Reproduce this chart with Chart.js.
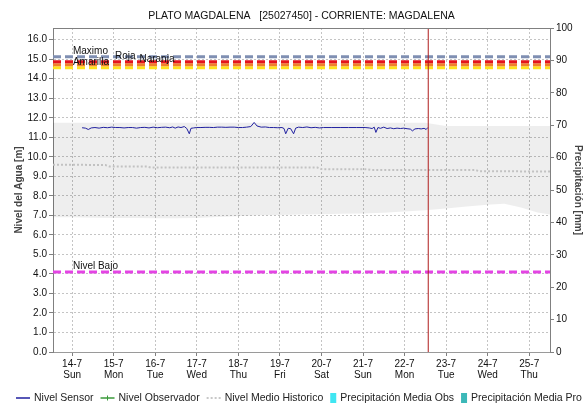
<!DOCTYPE html>
<html>
<head>
<meta charset="utf-8">
<title>Plato Magdalena</title>
<script src="https://cdn.jsdelivr.net/npm/chart.js@4.4.0/dist/chart.umd.min.js"></script>
<style>
  html, body { margin: 0; padding: 0; background: #fff; }
  #caja { width: 584px; height: 404px; }
</style>
</head>
<body>
<div id="caja"><canvas id="grafica" width="584" height="404"></canvas></div>
<script>
// dias del eje x (dia de julio) con su etiqueta de fecha y dia de la semana
var diasEje = [14, 15, 16, 17, 18, 19, 20, 21, 22, 23, 24, 25];
var etiquetasFecha = ['14-7', '15-7', '16-7', '17-7', '18-7', '19-7', '20-7', '21-7', '22-7', '23-7', '24-7', '25-7'];
var etiquetasDia = ['Sun', 'Mon', 'Tue', 'Wed', 'Thu', 'Fri', 'Sat', 'Sun', 'Mon', 'Tue', 'Wed', 'Thu'];

// marcas del eje de nivel (m)
var ticksNivel = [0, 1, 2, 3, 4, 5, 6, 7, 8, 9, 10, 11, 12, 13, 14, 15, 16];

// lecturas del sensor: dia (fraccion) y nivel en metros
var sensorDias = [14.24, 14.32, 14.39, 14.46, 14.55, 14.65, 14.75, 14.85, 14.95, 15.05,
    15.15, 15.25, 15.35, 15.45, 15.55, 15.65, 15.75, 15.85, 15.95, 16.05,
    16.15, 16.25, 16.35, 16.42, 16.48, 16.55, 16.62, 16.70, 16.76, 16.82,
    16.86, 16.92, 17.00, 17.10, 17.20, 17.30, 17.40, 17.50, 17.60, 17.70,
    17.80, 17.90, 18.00, 18.10, 18.20, 18.30, 18.38, 18.45, 18.55, 18.65,
    18.75, 18.85, 18.95, 19.05, 19.10, 19.14, 19.20, 19.26, 19.33, 19.38,
    19.45, 19.55, 19.65, 19.75, 19.85, 19.95, 20.05, 20.25, 20.45, 20.65,
    20.85, 21.05, 21.15, 21.22, 21.27, 21.31, 21.36, 21.42, 21.50, 21.58,
    21.66, 21.74, 21.82, 21.90, 21.98, 22.06, 22.14, 22.19, 22.25, 22.33,
    22.40, 22.47, 22.52, 22.56];
var sensorNivel = [11.49, 11.47, 11.40, 11.48, 11.50, 11.47, 11.51, 11.49, 11.52, 11.50,
    11.50, 11.48, 11.50, 11.50, 11.47, 11.50, 11.51, 11.48, 11.52, 11.49,
    11.51, 11.52, 11.49, 11.53, 11.47, 11.53, 11.50, 11.55, 11.45, 11.18,
    11.46, 11.48, 11.50, 11.50, 11.51, 11.51, 11.50, 11.52, 11.52, 11.51,
    11.52, 11.52, 11.50, 11.50, 11.52, 11.55, 11.76, 11.58, 11.52, 11.53,
    11.50, 11.50, 11.49, 11.50, 11.45, 11.18, 11.46, 11.44, 11.18, 11.47,
    11.52, 11.50, 11.53, 11.49, 11.51, 11.48, 11.50, 11.50, 11.50, 11.50,
    11.50, 11.50, 11.48, 11.45, 11.52, 11.25, 11.50, 11.46, 11.52, 11.45,
    11.48, 11.44, 11.47, 11.45, 11.47, 11.44, 11.42, 11.33, 11.43, 11.45,
    11.43, 11.46, 11.40, 11.50];

// el observador no tiene lecturas en este periodo
var observadorDias = [];
var observadorNivel = [];

// banda historica (maximo y minimo) y nivel medio historico
var histDias = [13.54, 14, 14.5, 15, 15.5, 16, 16.5, 17, 17.5, 18, 18.5, 19, 19.5, 20,
    20.5, 21, 21.5, 22, 22.5, 23, 23.5, 24, 24.4, 24.8, 25.2, 25.5];
var histMaximo = [11.75, 11.75, 11.75, 11.75, 11.75, 11.75, 11.75, 11.75, 11.75, 11.75, 11.75, 11.75, 11.75, 11.75,
    11.75, 11.75, 11.75, 11.75, 11.74, 11.58, 11.58, 11.58, 11.58, 11.58, 11.58, 11.58];
var histMinimo = [6.90, 6.90, 6.88, 6.87, 6.86, 6.85, 6.85, 6.87, 6.92, 6.96, 7.00, 7.02, 7.04, 7.06,
    7.08, 7.10, 7.14, 7.20, 7.26, 7.35, 7.45, 7.55, 7.60, 7.40, 7.15, 7.05];
var medioDias = [13.54, 14.8, 14.9, 15.8, 15.9, 19.9, 20.0, 21.1, 21.2, 23.7, 23.8, 25.5];
var medioNivel = [9.60, 9.58, 9.50, 9.50, 9.45, 9.45, 9.37, 9.36, 9.33, 9.33, 9.26, 9.25];

// umbrales de alerta (m)
var umbralNombres = ['Maximo', 'Roja', 'Naranja', 'Amarilla', 'Nivel Bajo'];
var umbralValores = [15.13, 14.87, 14.72, 14.56, 4.10];

// momento actual (dia fraccion)
var ahora = 22.57;

var leyendaNombres = ['Nivel Sensor', 'Nivel Observador', 'Nivel Medio Historico', 'Precipitación Media Obs', 'Precipitación Media Pro'];

// estilos
var fuente = '"Liberation Sans", Arial, sans-serif';
var coloresUmbral = ['#7f8fb2', '#e4141c', '#f0802c', '#ffe21c', '#e444e4'];
var etiquetaUmbralDia = [14.02, 15.03, 15.62, 14.02, 14.02];
var leyendaTipos = ['linea', 'marca', 'puntos', 'caja', 'caja'];
var leyendaColores = ['#1f1f9f', '#3a9a3a', '#c8c8c8', '#40e6f2', '#3cb8b8'];

function puntos(xs, ys) {
    return xs.map(function (x, i) { return { x: x, y: ys[i] }; });
}

var datasets = [];
// linea roja del momento actual
datasets.push({
    label: 'Ahora', data: [{ x: ahora, y: 0 }, { x: ahora, y: 16.6 }],
    borderColor: '#b01c1c', borderWidth: 1, pointRadius: 0, order: 0
});
datasets.push({
    label: 'Nivel Sensor', data: puntos(sensorDias, sensorNivel),
    borderColor: '#1f1f9f', borderWidth: 1, pointRadius: 0, tension: 0, order: 1
});
datasets.push({
    label: 'Nivel Observador', data: puntos(observadorDias, observadorNivel),
    borderColor: '#3a9a3a', borderWidth: 1, pointRadius: 2, order: 1
});
for (var i = 0; i < umbralNombres.length; i++) {
    datasets.push({
        label: umbralNombres[i],
        data: [{ x: 13.54, y: umbralValores[i] }, { x: 25.5, y: umbralValores[i] }],
        borderColor: coloresUmbral[i], borderWidth: 3, borderDash: [8, 4],
        pointRadius: 0, order: 2
    });
}
datasets.push({
    label: 'Nivel Medio Historico', data: puntos(medioDias, medioNivel),
    borderColor: '#c2c2c2', borderWidth: 2, borderDash: [2, 2], pointRadius: 0, order: 3
});
// banda historica: se rellena del maximo al minimo
datasets.push({
    label: 'Maximo Historico', data: puntos(histDias, histMaximo),
    borderWidth: 0, borderColor: 'rgba(0,0,0,0)', pointRadius: 0,
    backgroundColor: 'rgba(0,0,0,0.065)', fill: '+1', order: 4
});
datasets.push({
    label: 'Minimo Historico', data: puntos(histDias, histMinimo),
    borderWidth: 0, borderColor: 'rgba(0,0,0,0)', pointRadius: 0, fill: false, order: 5
});

// titulo, marco superior, rotulos de umbrales y leyenda
var rotulos = {
    id: 'rotulos',
    afterDatasetsDraw: function (chart) {
        var ctx = chart.ctx;
        var xs = chart.scales.x, ys = chart.scales.y;
        ctx.save();
        ctx.font = '10px ' + fuente;
        ctx.fillStyle = '#111';
        ctx.textBaseline = 'middle';
        ctx.textAlign = 'left';
        for (var i = 0; i < umbralNombres.length; i++) {
            ctx.fillText(umbralNombres[i], xs.getPixelForValue(etiquetaUmbralDia[i]),
                ys.getPixelForValue(umbralValores[i]) - 5.5);
        }
        ctx.restore();
    },
    afterDraw: function (chart) {
        var ctx = chart.ctx, area = chart.chartArea;
        ctx.save();
        // marco superior
        ctx.strokeStyle = '#808080';
        ctx.lineWidth = 1;
        ctx.beginPath();
        ctx.moveTo(area.left, area.top + 0.5);
        ctx.lineTo(area.right, area.top + 0.5);
        ctx.stroke();
        // titulo centrado sobre el area de la grafica
        ctx.font = '10.5px ' + fuente;
        ctx.fillStyle = '#111';
        ctx.textAlign = 'center';
        ctx.textBaseline = 'middle';
        ctx.fillText('PLATO MAGDALENA   [25027450] - CORRIENTE: MAGDALENA', (area.left + area.right) / 2, 16);
        // leyenda
        ctx.font = '10.5px ' + fuente;
        ctx.textAlign = 'left';
        var x = 16, y = 398;
        for (var i = 0; i < leyendaNombres.length; i++) {
            var tipo = leyendaTipos[i];
            if (tipo === 'caja') {
                ctx.fillStyle = leyendaColores[i];
                ctx.fillRect(x, y - 5, 6, 10);
                x += 10;
            } else {
                ctx.strokeStyle = leyendaColores[i];
                ctx.lineWidth = tipo === 'puntos' ? 2 : 1.5;
                ctx.setLineDash(tipo === 'puntos' ? [2, 2] : []);
                ctx.beginPath();
                ctx.moveTo(x, y);
                ctx.lineTo(x + 14, y);
                ctx.stroke();
                ctx.setLineDash([]);
                if (tipo === 'marca') {
                    ctx.lineWidth = 1;
                    ctx.beginPath();
                    ctx.moveTo(x + 7, y - 2.5);
                    ctx.lineTo(x + 7, y + 2.5);
                    ctx.stroke();
                }
                x += 18;
            }
            ctx.fillStyle = '#222';
            ctx.fillText(leyendaNombres[i], x, y);
            x += ctx.measureText(leyendaNombres[i]).width + 7;
        }
        ctx.restore();
    }
};

Chart.defaults.font.family = fuente;
Chart.defaults.font.size = 10;
Chart.defaults.color = '#111';

var ctx = document.getElementById('grafica').getContext('2d');
var miGrafico = new Chart(ctx, {
    type: 'line',
    data: { datasets: datasets },
    options: {
        responsive: false,
        animation: false,
        layout: { padding: { top: 28, left: 0, right: 0, bottom: 0 } },
        plugins: {
            legend: { display: false },
            title: { display: false },
            tooltip: { enabled: false }
        },
        scales: {
            x: {
                type: 'linear', min: 13.54, max: 25.5,
                afterBuildTicks: function (s) { s.ticks = diasEje.map(function (v) { return { value: v }; }); },
                afterFit: function (s) { s.height = 52; },
                ticks: {
                    autoSkip: false, maxRotation: 0, padding: 3,
                    font: { size: 10, lineHeight: 1.05 },
                    callback: function (v, i) { return [etiquetasFecha[i], etiquetasDia[i]]; }
                },
                grid: { color: '#c4c4c4', tickColor: '#808080', tickLength: 4, tickBorderDash: [] },
                border: { color: '#9a9a9a', dash: [2, 2] }
            },
            y: {
                type: 'linear', position: 'left', min: 0, max: 16.6,
                afterBuildTicks: function (s) { s.ticks = ticksNivel.map(function (v) { return { value: v }; }); },
                afterFit: function (s) { s.width = 53; },
                ticks: { padding: 2, callback: function (v) { return v.toFixed(1); } },
                grid: { color: '#c4c4c4', tickColor: '#808080', tickLength: 4, tickBorderDash: [] },
                border: { color: '#808080', dash: [2, 2] },
                title: {
                    display: true, text: 'Nivel del Agua [m]', color: '#444',
                    font: { size: 10, weight: 'bold' }, padding: { top: 13, bottom: 0 }
                }
            },
            y1: {
                type: 'linear', position: 'right', min: 0, max: 100,
                afterFit: function (s) { s.width = 34; },
                ticks: { stepSize: 10, padding: 2 },
                grid: { drawOnChartArea: false, tickColor: '#808080', tickLength: 4 },
                border: { color: '#808080' },
                title: {
                    display: true, text: 'Precipitación [mm]', color: '#444',
                    font: { size: 10, weight: 'bold' }, padding: { top: 0, bottom: 0 }
                }
            }
        }
    },
    plugins: [rotulos]
});
</script>
</body>
</html>
